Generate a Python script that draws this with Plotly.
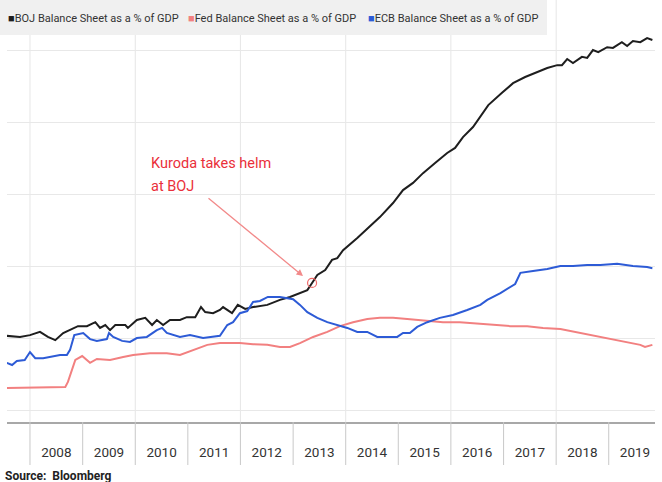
import pandas as pd
import plotly.graph_objects as go

# ---- data (x as fractional years, y as % of GDP) ----
boj_t = [2007.56, 2007.81, 2008.00, 2008.19, 2008.34, 2008.48, 2008.63, 2008.91, 2009.08, 2009.24,
         2009.33, 2009.43, 2009.52, 2009.62, 2009.81, 2009.86, 2010.03, 2010.19, 2010.32, 2010.41,
         2010.53, 2010.66, 2010.85, 2010.98, 2011.14, 2011.25, 2011.33, 2011.48, 2011.61, 2011.67,
         2011.84, 2011.95, 2012.09, 2012.24, 2012.51, 2012.75, 2012.94, 2013.13, 2013.27, 2013.36,
         2013.46, 2013.61, 2013.74, 2013.84, 2013.95, 2014.22, 2014.43, 2014.65, 2014.90, 2015.09,
         2015.28, 2015.47, 2015.70, 2015.93, 2016.08, 2016.23, 2016.42, 2016.56, 2016.71, 2016.97,
         2017.18, 2017.41, 2017.64, 2017.83, 2018.02, 2018.11, 2018.21, 2018.32, 2018.49, 2018.59,
         2018.70, 2018.80, 2018.97, 2019.08, 2019.25, 2019.35, 2019.46, 2019.60, 2019.73, 2019.83]
boj_v = [20.6, 20.3, 20.8, 21.7, 20.3, 19.4, 21.4, 23.3, 23.3, 24.4,
         22.8, 23.6, 22.2, 23.6, 23.6, 22.8, 25.0, 25.6, 23.6, 25.0,
         23.6, 25.0, 25.0, 25.8, 25.8, 28.6, 27.2, 26.9, 27.8, 28.6,
         26.9, 29.2, 28.1, 28.6, 29.2, 30.6, 31.4, 32.5, 33.3, 35.3,
         37.5, 38.9, 41.7, 42.2, 44.4, 47.8, 50.6, 53.6, 57.5, 61.1,
         63.1, 65.8, 68.6, 71.4, 72.8, 75.8, 78.6, 81.4, 84.7, 88.1,
         90.8, 92.5, 93.9, 95.0, 95.8, 95.8, 97.5, 96.4, 98.1, 97.8,
         100.0, 99.4, 100.8, 100.6, 102.2, 101.1, 102.5, 102.2, 103.3, 102.8]

fed_t = [2007.56, 2008.67, 2008.72, 2008.86, 2008.99, 2009.14, 2009.27, 2009.52, 2009.77, 2009.96,
         2010.28, 2010.60, 2010.85, 2011.10, 2011.37, 2011.61, 2011.99, 2012.24, 2012.51, 2012.75,
         2012.94, 2013.13, 2013.38, 2013.65, 2013.89, 2014.14, 2014.41, 2014.65, 2014.90, 2015.17,
         2015.55, 2015.85, 2016.17, 2016.61, 2017.13, 2017.45, 2017.75, 2018.08, 2018.46, 2018.84,
         2019.22, 2019.60, 2019.69, 2019.83]
fed_v = [6.1, 6.4, 7.8, 13.9, 15.0, 13.1, 14.2, 13.9, 14.7, 15.3,
         15.8, 15.8, 15.3, 16.7, 18.1, 18.6, 18.6, 18.3, 18.1, 17.5,
         17.5, 18.6, 20.3, 21.7, 23.3, 24.4, 25.3, 25.6, 25.6, 25.3,
         24.7, 24.4, 24.4, 23.9, 23.3, 23.3, 22.8, 22.5, 21.4, 20.3,
         19.2, 18.1, 17.5, 18.1]

ecb_t = [2007.56, 2007.66, 2007.75, 2007.90, 2008.00, 2008.10, 2008.25, 2008.44, 2008.57, 2008.70,
         2008.76, 2008.84, 2008.95, 2009.01, 2009.14, 2009.27, 2009.46, 2009.50, 2009.58, 2009.75,
         2009.90, 2010.03, 2010.22, 2010.41, 2010.51, 2010.60, 2010.85, 2011.04, 2011.29, 2011.48,
         2011.61, 2011.75, 2011.86, 2011.99, 2012.13, 2012.24, 2012.37, 2012.52, 2012.75, 2013.00,
         2013.13, 2013.27, 2013.46, 2013.65, 2013.84, 2014.03, 2014.22, 2014.41, 2014.60, 2014.79,
         2014.98, 2015.09, 2015.22, 2015.36, 2015.55, 2015.79, 2016.04, 2016.31, 2016.56, 2016.69,
         2016.94, 2017.22, 2017.32, 2017.56, 2017.83, 2018.08, 2018.32, 2018.59, 2018.84, 2019.16,
         2019.46, 2019.73, 2019.83]
ecb_v = [13.1, 12.5, 13.6, 13.9, 16.1, 14.4, 14.4, 15.0, 15.3, 15.3,
         16.7, 20.8, 21.1, 21.4, 19.7, 19.2, 19.7, 21.4, 20.3, 19.2,
         18.9, 20.0, 20.3, 22.2, 22.8, 21.4, 20.3, 20.8, 20.0, 20.3,
         20.6, 23.6, 24.4, 26.9, 27.5, 30.0, 30.3, 31.4, 31.4, 30.8,
         29.2, 27.2, 25.6, 24.4, 23.6, 22.8, 21.7, 21.7, 20.3, 20.3,
         20.3, 21.4, 21.4, 23.1, 24.4, 25.6, 26.4, 27.8, 29.2, 30.6,
         32.5, 35.0, 38.1, 38.6, 39.2, 40.0, 40.0, 40.3, 40.3, 40.6,
         40.0, 39.7, 39.4]

years = list(range(2008, 2020))
grid_years = [2008, 2010, 2012, 2014, 2016, 2018]
x_start, x_end = 2007.563, 2019.88
y_min, y_max = -3.33, 113.9

series = [
    ("BOJ Balance Sheet as a % of GDP", boj_t, boj_v, "#1e1e1e"),
    ("Fed Balance Sheet as a % of GDP", fed_t, fed_v, "#f28080"),
    ("ECB Balance Sheet as a % of GDP", ecb_t, ecb_v, "#2d5bd6"),
]
kuroda_idx = 39  # point on the BOJ line marked by the annotation


def to_date(fy):
    y = int(fy)
    start = pd.Timestamp(year=y, month=1, day=1)
    end = pd.Timestamp(year=y + 1, month=1, day=1)
    return start + (end - start) * (fy - y)


FONT = "Roboto, Lato, sans-serif"
W, H = 662, 482
ML, MR, MT, MB = 7, 7, 0, 60
PW, PH = W - ML - MR, H - MT - MB


def px_x(px):
    return (px - ML) / PW


def px_y(py):
    return 1 - (py - MT) / PH


fig = go.Figure()
for name, t, v, col in series:
    fig.add_trace(go.Scatter(x=[to_date(a) for a in t], y=v, mode="lines", name=name,
                             line=dict(color=col, width=2), showlegend=False))

# small circle marking Kuroda's arrival on the BOJ line
fig.add_trace(go.Scatter(x=[to_date(boj_t[kuroda_idx])], y=[boj_v[kuroda_idx]], mode="markers",
                         showlegend=False,
                         marker=dict(symbol="circle-open", size=9, color="#f06a6a", line=dict(width=1.2))))

shapes = [dict(type="rect", xref="paper", yref="paper", x0=px_x(0), x1=px_x(547),
               y0=px_y(35), y1=px_y(0), fillcolor="#f0f0f0", line=dict(width=0), layer="above")]
for yr in grid_years:
    shapes.append(dict(type="line", xref="x", yref="paper", x0=f"{yr}-01-01", x1=f"{yr}-01-01",
                       y0=0, y1=1, line=dict(color="#e6e6e6", width=1), layer="below"))
for yr in years:
    shapes.append(dict(type="line", xref="x", yref="paper", x0=f"{yr}-01-01", x1=f"{yr}-01-01",
                       y0=0, y1=px_y(465), line=dict(color="#c8c8c8", width=1)))

annotations = []
legend_x = [6, 186, 366]
for (name, t, v, col), lx in zip(series, legend_x):
    annotations.append(dict(
        text=f"<span style='color:{col}'>■</span>{name}",
        xref="paper", yref="paper", x=px_x(lx), y=px_y(18), xanchor="left", yanchor="middle",
        showarrow=False, font=dict(family=FONT, size=11, color="#333")))

annotations += [
    dict(text="Kuroda takes helm", xref="paper", yref="paper", x=px_x(149), y=px_y(153),
         xanchor="left", yanchor="top", showarrow=False,
         font=dict(family=FONT, size=14.5, color="#ea2f3a")),
    dict(text="at BOJ", xref="paper", yref="paper", x=px_x(149), y=px_y(176),
         xanchor="left", yanchor="top", showarrow=False,
         font=dict(family=FONT, size=14.5, color="#ea2f3a")),
    dict(text="", xref="paper", yref="paper", x=px_x(303), y=px_y(276), ax=-96, ay=-79,
         showarrow=True, arrowhead=2, arrowsize=1, arrowwidth=1.3, arrowcolor="#f28a8a"),
    dict(text="<b>Source:  Bloomberg</b>", xref="paper", yref="paper", x=px_x(3), y=px_y(476),
         xanchor="left", yanchor="middle", showarrow=False,
         font=dict(family=FONT, size=12, color="#222")),
]

fig.update_layout(
    width=W, height=H,
    margin=dict(l=ML, r=MR, t=MT, b=MB, autoexpand=False),
    paper_bgcolor="white", plot_bgcolor="white",
    font=dict(family=FONT, color="#333"),
    showlegend=False,
    xaxis=dict(type="date", range=[to_date(x_start), to_date(x_end)], showgrid=False,
               dtick="M12", tick0="2008-01-01", ticklabelmode="period", ticks="",
               tickformat="%Y", ticklabelstandoff=17, automargin=False,
               tickfont=dict(family=FONT, size=13.5, color="#333"),
               showline=True, linecolor="#a8a8a8", linewidth=2, zeroline=False),
    yaxis=dict(range=[y_min, y_max], dtick=20, tick0=0, showgrid=True, gridcolor="#e8e8e8",
               showticklabels=False, zeroline=False, showline=False, automargin=False),
    shapes=shapes,
    annotations=annotations,
)

fig.write_html("out.html", config={"displayModeBar": False},
               post_script="document.body.style.margin='0px';document.body.style.overflow='hidden';")
